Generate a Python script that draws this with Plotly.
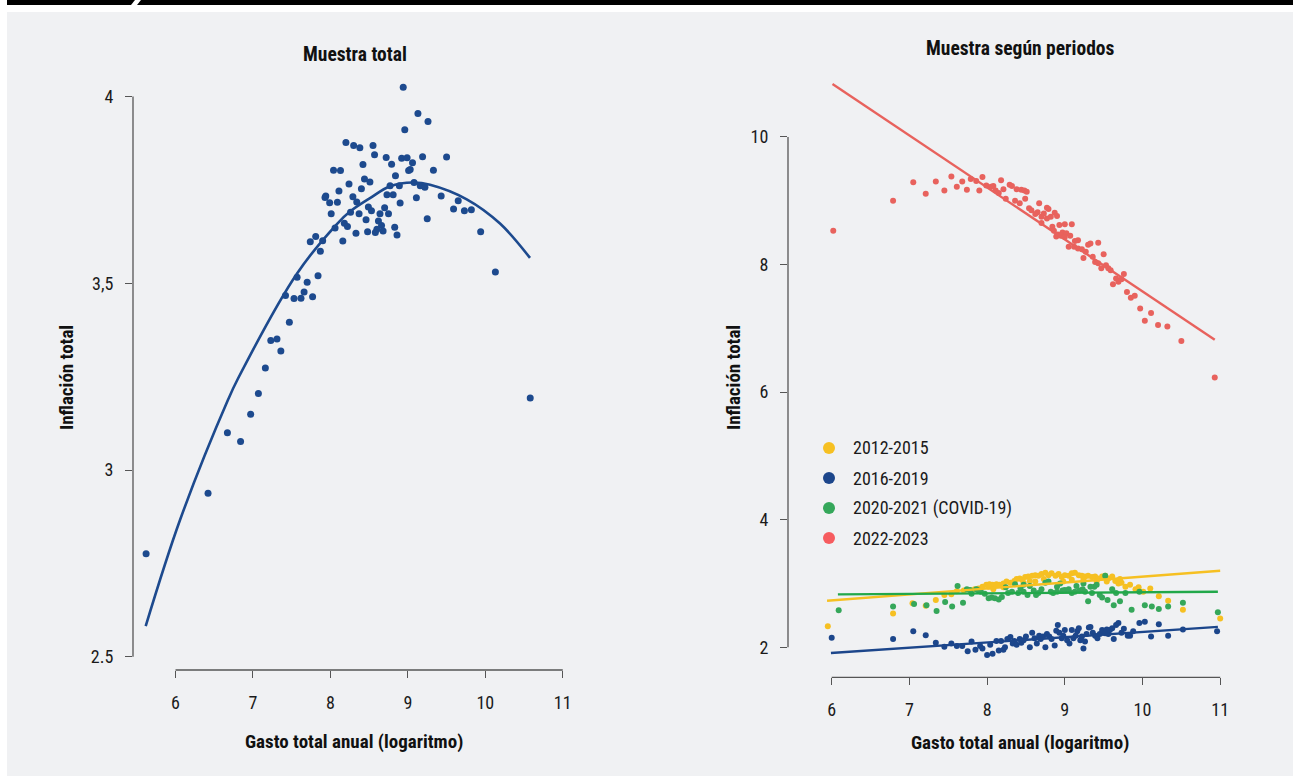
import plotly.graph_objects as go

W, H = 1293, 776

# ---------------- data: left panel (Muestra total) ----------------
total_x = [8.94, 9.13, 9.26, 8.96, 8.20, 8.30, 8.38, 8.55, 8.57, 8.72,
           8.92, 8.99, 9.19, 9.06, 8.79, 8.42, 9.03, 9.01, 8.04, 8.13,
           8.84, 8.44, 8.51, 8.24, 9.08, 9.16, 9.22, 8.77, 8.89, 8.11,
           8.40, 8.73, 8.81, 9.11, 7.94, 7.93, 7.99, 8.09, 8.29, 8.34,
           8.90, 8.49, 8.53, 8.70, 8.01, 8.26, 8.37, 8.64, 8.75, 9.25,
           8.46, 8.62, 8.18, 8.22, 8.06, 8.66, 8.83, 8.60, 8.58, 8.68,
           8.33, 8.48, 8.86, 7.81, 7.74, 7.90, 8.16, 7.87, 7.57, 7.70,
           7.84, 7.42, 7.53, 7.62, 7.66, 7.77, 7.47, 7.23, 7.31, 7.36,
           7.16, 7.07, 6.97, 6.67, 6.84, 6.42, 5.62, 9.59, 9.73, 9.82,
           9.94, 10.13, 10.58, 9.65, 9.50, 9.33, 9.43]
total_y = [4.025, 3.955, 3.933, 3.911, 3.877, 3.869, 3.863, 3.869, 3.844, 3.837,
           3.835, 3.836, 3.839, 3.823, 3.819, 3.818, 3.805, 3.802, 3.803, 3.802,
           3.788, 3.779, 3.771, 3.766, 3.770, 3.761, 3.757, 3.761, 3.761, 3.747,
           3.753, 3.737, 3.737, 3.729, 3.734, 3.730, 3.716, 3.717, 3.732, 3.718,
           3.715, 3.704, 3.694, 3.702, 3.686, 3.690, 3.686, 3.686, 3.686, 3.673,
           3.670, 3.667, 3.661, 3.652, 3.648, 3.655, 3.650, 3.645, 3.636, 3.640,
           3.634, 3.638, 3.629, 3.625, 3.611, 3.614, 3.613, 3.586, 3.516, 3.503,
           3.520, 3.467, 3.459, 3.460, 3.477, 3.464, 3.396, 3.347, 3.351, 3.319,
           3.273, 3.205, 3.149, 3.100, 3.076, 2.938, 2.776, 3.699, 3.694, 3.697,
           3.638, 3.530, 3.193, 3.721, 3.838, 3.803, 3.734]

# quadratic fit
fit_total_x = [5.615, 6.058, 6.682, 6.807, 7.565, 8.081, 8.253, 8.511, 8.770, 9.067, 9.286, 9.760, 10.190, 10.577]
fit_total_y = [2.582, 2.866, 3.190, 3.245, 3.525, 3.658, 3.692, 3.728, 3.760, 3.770, 3.764, 3.725, 3.660, 3.568]

left_xticks = [6, 7, 8, 9, 10, 11]
left_yticks = [2.5, 3, 3.5, 4]
left_yticklabels = ["2.5", "3", "3,5", "4"]

# ---------------- data: right panel (Muestra según periodos) ----------------
period_names = ["2012-2015", "2016-2019", "2020-2021 (COVID-19)", "2022-2023"]

yel_x = [5.95, 6.79, 7.04, 7.21, 7.34, 7.45, 7.54, 7.61, 7.70, 7.78,
         7.84, 7.89, 7.94, 7.99, 8.03, 8.07, 8.12, 8.16, 8.21, 8.25,
         8.30, 8.35, 8.38, 8.42, 8.45, 8.49, 8.53, 8.58, 8.62, 8.66,
         8.70, 8.75, 8.79, 8.83, 8.88, 8.92, 8.96, 9.00, 9.05, 9.09,
         9.13, 9.18, 9.22, 9.26, 9.30, 9.35, 9.39, 9.43, 9.48, 9.52,
         9.56, 9.61, 9.65, 9.69, 9.73, 9.78, 9.84, 9.91, 9.95, 10.01,
         10.10, 10.21, 10.33, 10.52, 11.00, 9.09, 8.98, 8.73, 8.62, 8.47,
         8.21, 8.08, 8.02, 8.55, 9.24, 9.41, 9.54, 9.71, 9.95]
yel_y = [2.33, 2.53, 2.69, 2.65, 2.74, 2.82, 2.83, 2.88, 2.89, 2.90,
         2.91, 2.92, 2.95, 2.98, 2.99, 2.98, 2.99, 2.98, 3.00, 3.03,
         3.01, 3.04, 3.07, 3.08, 3.06, 3.10, 3.11, 3.12, 3.13, 3.12,
         3.15, 3.17, 3.13, 3.16, 3.12, 3.15, 3.10, 3.13, 3.12, 3.16,
         3.17, 3.13, 3.12, 3.11, 3.12, 3.10, 3.11, 3.08, 3.11, 3.12,
         3.08, 3.11, 3.04, 3.00, 3.01, 2.95, 2.98, 2.91, 2.89, 2.87,
         2.92, 2.80, 2.73, 2.59, 2.45, 3.06, 3.03, 3.07, 3.03, 3.01,
         2.94, 2.91, 2.95, 3.04, 3.06, 3.03, 3.03, 3.07, 2.94]

blu_x = [6.00, 6.79, 7.05, 7.21, 7.34, 7.45, 7.54, 7.61, 7.68, 7.75,
         7.80, 7.85, 7.91, 7.94, 8.00, 8.04, 8.07, 8.12, 8.15, 8.18,
         8.21, 8.23, 8.26, 8.30, 8.33, 8.35, 8.38, 8.42, 8.44, 8.47,
         8.50, 8.55, 8.58, 8.61, 8.64, 8.67, 8.69, 8.72, 8.75, 8.77,
         8.80, 8.83, 8.87, 8.89, 8.91, 8.93, 8.96, 8.98, 9.00, 9.03,
         9.06, 9.09, 9.11, 9.14, 9.16, 9.18, 9.20, 9.22, 9.24, 9.26,
         9.28, 9.31, 9.33, 9.36, 9.39, 9.42, 9.45, 9.48, 9.50, 9.52,
         9.54, 9.56, 9.58, 9.61, 9.63, 9.66, 9.69, 9.73, 9.76, 9.81,
         9.84, 9.88, 9.96, 10.03, 10.11, 10.21, 10.33, 10.52, 10.96]
blu_y = [2.15, 2.13, 2.25, 2.19, 2.07, 2.01, 2.06, 2.02, 2.02, 1.94,
         2.09, 1.96, 2.02, 1.98, 1.88, 2.04, 1.90, 2.10, 1.95, 2.10,
         1.96, 2.00, 2.13, 2.16, 2.06, 2.10, 2.04, 2.13, 2.07, 2.11,
         2.17, 2.00, 2.23, 2.14, 2.06, 2.18, 2.13, 2.17, 2.00, 2.21,
         2.17, 2.13, 2.03, 2.26, 2.35, 2.23, 2.14, 2.18, 2.27, 2.11,
         2.06, 2.27, 2.14, 2.18, 2.25, 2.30, 2.11, 2.17, 1.98, 2.09,
         2.21, 2.31, 2.32, 2.23, 2.18, 2.14, 2.21, 2.27, 2.25, 2.22,
         2.28, 2.21, 2.27, 2.30, 2.13, 2.35, 2.38, 2.23, 2.29, 2.18,
         2.18, 2.25, 2.38, 2.40, 2.17, 2.36, 2.18, 2.28, 2.25]

grn_x = [6.09, 6.79, 7.06, 7.22, 7.35, 7.46, 7.55, 7.62, 7.69, 7.74,
         7.80, 7.86, 7.92, 7.97, 8.02, 8.06, 8.10, 8.15, 8.19, 8.24,
         8.27, 8.32, 8.36, 8.40, 8.43, 8.47, 8.52, 8.55, 8.60, 8.63,
         8.66, 8.70, 8.75, 8.79, 8.82, 8.85, 8.90, 8.94, 8.97, 9.00,
         9.05, 9.09, 9.13, 9.15, 9.19, 9.23, 9.26, 9.30, 9.35, 9.38,
         9.41, 9.45, 9.48, 9.52, 9.55, 9.61, 9.63, 9.66, 9.71, 9.78,
         9.86, 9.96, 10.03, 10.12, 10.21, 10.33, 10.52, 10.97, 7.78, 7.89,
         9.24, 8.90, 9.33, 8.47]
grn_y = [2.58, 2.64, 2.68, 2.66, 2.57, 2.71, 2.64, 2.96, 2.70, 2.91,
         2.84, 2.91, 2.87, 2.84, 2.77, 2.78, 2.77, 2.75, 2.79, 2.94,
         2.85, 2.87, 2.99, 2.85, 2.92, 2.87, 2.82, 2.96, 2.89, 2.82,
         2.85, 2.91, 3.01, 3.03, 2.87, 2.85, 2.95, 3.00, 2.89, 2.90,
         2.91, 2.85, 2.87, 2.96, 2.89, 2.91, 2.87, 2.72, 2.85, 2.95,
         2.98, 2.82, 2.78, 3.12, 2.74, 2.91, 2.66, 2.85, 2.72, 2.85,
         2.59, 2.87, 2.66, 2.64, 2.60, 2.64, 2.70, 2.55, 2.90, 2.89,
         3.00, 2.87, 2.95, 2.98]

red_x = [6.02, 6.79, 7.05, 7.21, 7.34, 7.45, 7.54, 7.61, 7.68, 7.74,
         7.79, 7.86, 7.90, 7.94, 7.99, 8.05, 8.08, 8.11, 8.15, 8.18,
         8.21, 8.24, 8.29, 8.32, 8.38, 8.44, 8.48, 8.51, 8.36, 8.42,
         8.49, 8.54, 8.57, 8.67, 8.62, 8.65, 8.70, 8.73, 8.77, 8.79,
         8.77, 8.82, 8.87, 8.90, 8.70, 8.84, 8.86, 8.89, 8.93, 8.91,
         9.00, 9.09, 8.97, 9.02, 8.95, 9.00, 9.07, 9.05, 9.13, 9.17,
         9.12, 9.17, 9.22, 9.27, 9.30, 9.33, 9.43, 9.24, 9.36, 9.50,
         9.39, 9.43, 9.47, 9.53, 9.56, 9.59, 9.66, 9.69, 9.73, 9.76,
         9.62, 9.80, 9.85, 9.90, 9.97, 10.11, 10.03, 10.20, 10.32, 10.50,
         10.93]
red_y = [8.53, 9.00, 9.29, 9.11, 9.30, 9.16, 9.38, 9.22, 9.30, 9.17,
         9.34, 9.31, 9.16, 9.37, 9.24, 9.22, 9.23, 9.16, 9.12, 9.32,
         9.18, 9.03, 9.25, 9.23, 9.18, 9.17, 9.16, 9.14, 9.00, 8.96,
         9.03, 8.88, 8.85, 8.96, 8.79, 8.82, 8.75, 8.80, 8.89, 8.87,
         8.72, 8.75, 8.81, 8.76, 8.65, 8.59, 8.53, 8.44, 8.62, 8.47,
         8.63, 8.63, 8.50, 8.49, 8.45, 8.43, 8.45, 8.28, 8.37, 8.38,
         8.28, 8.25, 8.24, 8.20, 8.31, 8.33, 8.34, 8.10, 8.12, 8.16,
         8.04, 8.02, 7.94, 7.99, 7.94, 7.91, 7.78, 7.73, 7.77, 7.85,
         7.69, 7.57, 7.48, 7.51, 7.31, 7.24, 7.12, 7.05, 7.03, 6.80,
         6.23]

# linear fits (endpoints)
fit_yel_x, fit_yel_y = [5.94, 11.00], [2.73, 3.20]
fit_blu_x, fit_blu_y = [5.99, 10.97], [1.91, 2.32]
fit_grn_x, fit_grn_y = [6.08, 10.97], [2.83, 2.87]
fit_red_x, fit_red_y = [6.01, 10.93], [10.83, 6.82]

right_xticks = [6, 7, 8, 9, 10, 11]
right_yticks = [2, 4, 6, 8, 10]

# ---------------- styling ----------------
NAVY = "#1d4a8e"
YEL = "#f6c022"
BLU = "#1c468b"
GRN = "#35a75a"
GRN_LINE = "#22a84a"
RED = "#e8625d"
LEG_COLORS = ["#f6c022", "#1c468b", "#35a75a", "#f65c5f"]
AXC = "#555555"
FONT = "Roboto Condensed, Liberation Sans Narrow, DejaVu Sans Condensed, Roboto, sans-serif"
TXT = "#1a1a1a"


def fx(p):
    return p / W


def fy(p):
    return 1 - p / H


fig = go.Figure()

# left panel
fig.add_trace(go.Scatter(x=total_x, y=total_y, mode="markers", xaxis="x", yaxis="y",
                         marker=dict(color=NAVY, size=7), cliponaxis=False, showlegend=False))
fig.add_trace(go.Scatter(x=fit_total_x, y=fit_total_y, mode="lines", xaxis="x", yaxis="y",
                         line=dict(color=NAVY, width=2.6, shape="spline", smoothing=1.0),
                         cliponaxis=False, showlegend=False))

# right panel points
for xs, ys, c, n in [(yel_x, yel_y, YEL, period_names[0]), (blu_x, blu_y, BLU, period_names[1]),
                     (grn_x, grn_y, GRN, period_names[2]), (red_x, red_y, RED, period_names[3])]:
    fig.add_trace(go.Scatter(x=xs, y=ys, mode="markers", xaxis="x2", yaxis="y2", name=n,
                             marker=dict(color=c, size=6), cliponaxis=False, showlegend=False))
for xs, ys, c in [(fit_yel_x, fit_yel_y, YEL), (fit_blu_x, fit_blu_y, BLU),
                  (fit_grn_x, fit_grn_y, GRN_LINE), (fit_red_x, fit_red_y, RED)]:
    fig.add_trace(go.Scatter(x=xs, y=ys, mode="lines", xaxis="x2", yaxis="y2",
                             line=dict(color=c, width=2.4), cliponaxis=False, showlegend=False))

tickfont = dict(family=FONT, size=18, color=TXT)
common_x = dict(showgrid=False, zeroline=False, showline=False, ticks="outside", ticklen=7,
                tickwidth=1.3, tickcolor=AXC, tickfont=tickfont, ticklabelstandoff=9, fixedrange=True)
common_y = dict(showgrid=False, zeroline=False, showline=False, ticks="outside", ticklen=7,
                tickwidth=1.3, tickcolor=AXC, tickfont=tickfont, ticklabelstandoff=8, fixedrange=True)

fig.update_layout(
    width=W, height=H, margin=dict(l=0, r=0, t=0, b=0),
    paper_bgcolor="white", plot_bgcolor="rgba(0,0,0,0)",
    xaxis=dict(domain=[fx(133), fx(575)], range=[5.451, 11.158], anchor="y",
               tickvals=left_xticks, ticktext=[str(v) for v in left_xticks], **common_x),
    yaxis=dict(domain=[fy(670), fy(70)], range=[2.4644, 4.0712], anchor="x",
               tickvals=left_yticks, ticktext=left_yticklabels, **common_y),
    xaxis2=dict(domain=[fx(788), fx(1240)], range=[5.4376, 11.2548], anchor="y2",
                tickvals=right_xticks, ticktext=[str(v) for v in right_xticks], **common_x),
    yaxis2=dict(domain=[fy(677.3), fy(70)], range=[1.5298, 11.0486], anchor="x2",
                tickvals=right_yticks, ticktext=[str(v) for v in right_yticks], **common_y),
    showlegend=False,
)

shapes = []
# background panel
shapes.append(dict(type="rect", xref="paper", yref="paper", x0=fx(7), x1=1, y0=0, y1=fy(12),
                   fillcolor="#f0f1f3", line=dict(width=0), layer="below"))
# top black bar with slanted notch
shapes.append(dict(type="path", xref="paper", yref="paper",
                   path=f"M {fx(7)},{fy(0)} L {fx(135)},{fy(0)} L {fx(131)},{fy(5)} L {fx(7)},{fy(5)} Z",
                   fillcolor="black", line=dict(width=0), layer="below"))
shapes.append(dict(type="path", xref="paper", yref="paper",
                   path=f"M {fx(141)},{fy(0)} L {fx(1293)},{fy(0)} L {fx(1293)},{fy(5)} L {fx(137)},{fy(5)} Z",
                   fillcolor="black", line=dict(width=0), layer="below"))
# axis lines (R style: spanning first to last tick)
axl = dict(color=AXC, width=1.3)
shapes.append(dict(type="line", xref="x", yref="y domain", x0=6, x1=11, y0=0, y1=0, line=axl))
shapes.append(dict(type="line", xref="x domain", yref="y", x0=0, x1=0, y0=2.5, y1=4, line=axl))
shapes.append(dict(type="line", xref="x2", yref="y2 domain", x0=6, x1=11, y0=0, y1=0, line=axl))
shapes.append(dict(type="line", xref="x2 domain", yref="y2", x0=0, x1=0, y0=2, y1=10, line=axl))

# legend markers
leg_rows = [448, 478, 508, 538]
for c, ry in zip(LEG_COLORS, leg_rows):
    shapes.append(dict(type="circle", xref="paper", yref="paper",
                       x0=fx(829 - 6), x1=fx(829 + 6), y0=fy(ry + 6), y1=fy(ry - 6),
                       fillcolor=c, line=dict(width=0)))

annotations = []
bold_t = dict(family=FONT, size=19.5, color="#111111", weight="bold")
bold = dict(family=FONT, size=19, color="#111111", weight="bold")
annotations.append(dict(text="Muestra total", x=fx(355), y=fy(55), xref="paper", yref="paper",
                        showarrow=False, xanchor="center", yanchor="middle", font=bold_t))
annotations.append(dict(text="Muestra según periodos", x=fx(1020), y=fy(48), xref="paper", yref="paper",
                        showarrow=False, xanchor="center", yanchor="middle", font=bold_t))
annotations.append(dict(text="Gasto total anual (logaritmo)", x=fx(354), y=fy(741), xref="paper", yref="paper",
                        showarrow=False, xanchor="center", yanchor="middle", font=bold))
annotations.append(dict(text="Gasto total anual (logaritmo)", x=fx(1020), y=fy(742), xref="paper", yref="paper",
                        showarrow=False, xanchor="center", yanchor="middle", font=bold))
annotations.append(dict(text="Inflación total", x=fx(66), y=fy(378), xref="paper", yref="paper", textangle=-90,
                        showarrow=False, xanchor="center", yanchor="middle", font=bold))
annotations.append(dict(text="Inflación total", x=fx(733), y=fy(378), xref="paper", yref="paper", textangle=-90,
                        showarrow=False, xanchor="center", yanchor="middle", font=bold))
for name, ry in zip(period_names, leg_rows):
    annotations.append(dict(text=name, x=fx(851), y=fy(ry), xref="paper", yref="paper",
                            showarrow=False, xanchor="left", yanchor="middle",
                            font=dict(family=FONT, size=18, color=TXT)))

fig.update_layout(shapes=shapes, annotations=annotations)
fig.write_html("out.html", config={"displayModeBar": False},
               post_script="document.body.style.margin='0px';document.body.style.padding='0px';"
                           "document.body.style.overflow='hidden';")
